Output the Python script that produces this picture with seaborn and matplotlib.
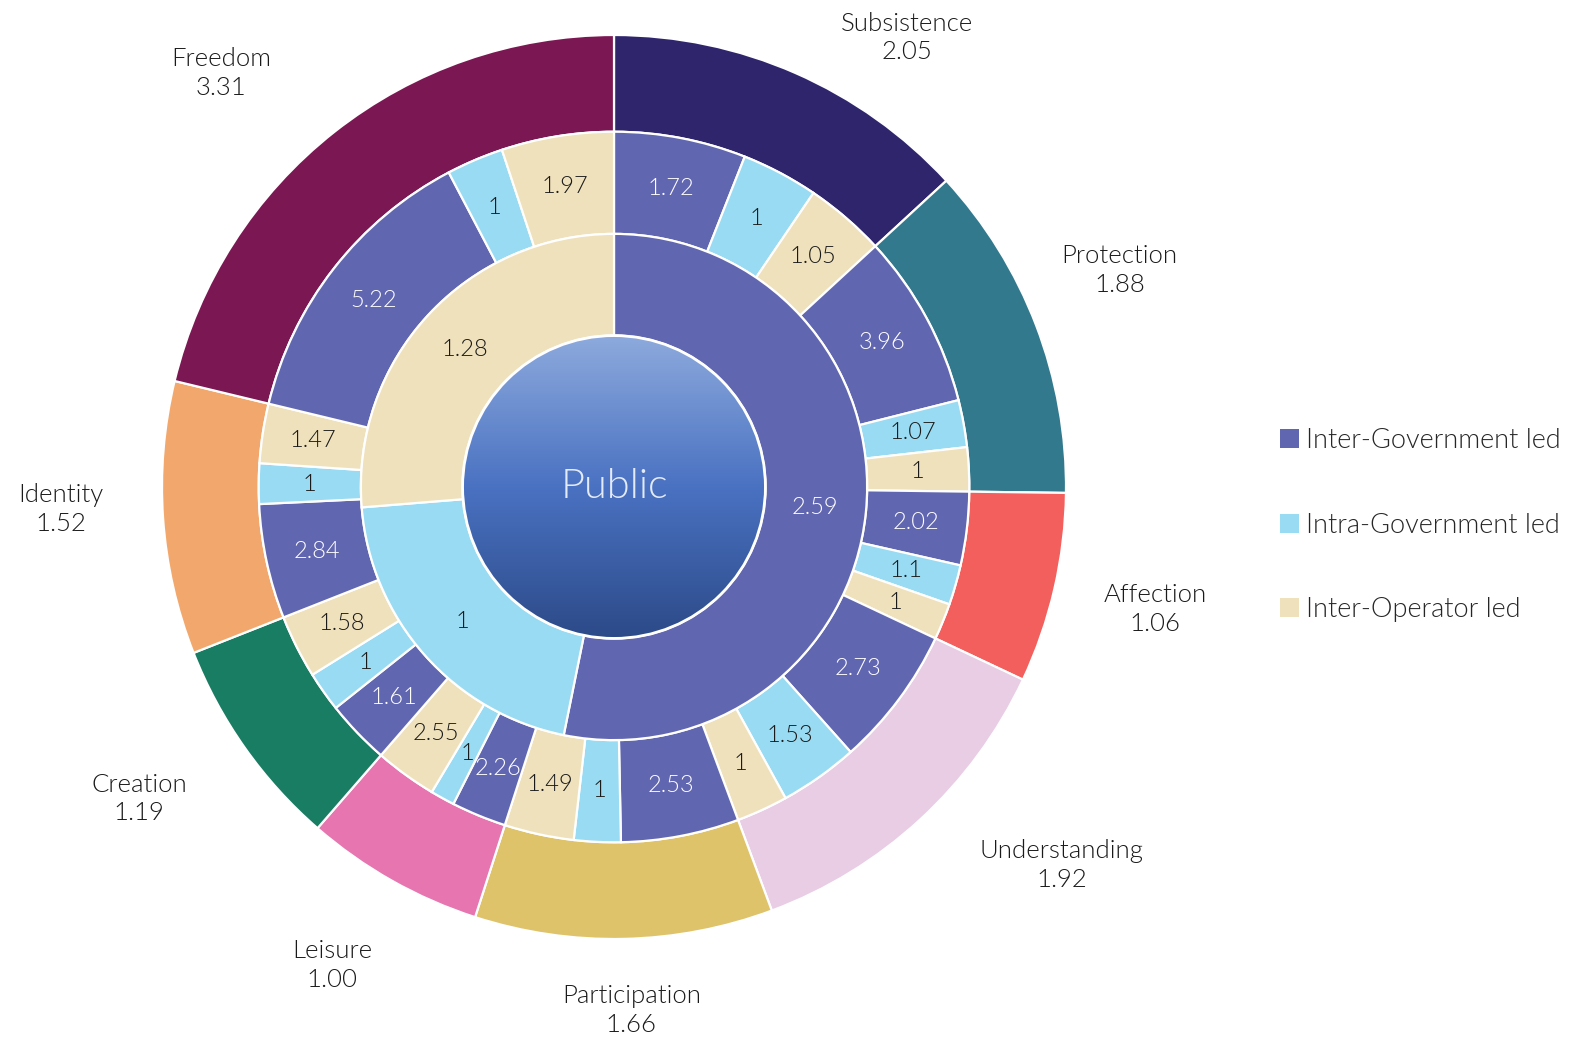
import numpy as np
import matplotlib
matplotlib.use("Agg")
import matplotlib.pyplot as plt
from matplotlib.patches import Circle, Patch
from matplotlib.colors import LinearSegmentedColormap
import seaborn as sns

# ---------------- data ----------------
center_label = "Public"
categories = ["Inter-Government led", "Intra-Government led", "Inter-Operator led"]
category_values = [2.59, 1, 1.28]

needs = ["Subsistence", "Protection", "Affection", "Understanding", "Participation",
         "Leisure", "Creation", "Identity", "Freedom"]
need_values = [2.05, 1.88, 1.06, 1.92, 1.66, 1.00, 1.19, 1.52, 3.31]

inter_gov = [1.72, 3.96, 2.02, 2.73, 2.53, 2.26, 1.61, 2.84, 5.22]
intra_gov = [1, 1.07, 1.1, 1.53, 1, 1, 1, 1, 1]
inter_op = [1.05, 1, 1, 1, 1.49, 2.55, 1.58, 1.47, 1.97]

# label placement (angle clockwise from top in degrees, radius relative to outer ring)
label_angle = [33.1, 66.8, 102.8, 130.2, 178.1, 210.5, 236.7, 267.7, 316.5]
label_radius = [1.186, 1.217, 1.227, 1.297, 1.159, 1.228, 1.257, 1.224, 1.262]

# ---------------- style ----------------
sns.set_theme(style="white")
plt.rcParams["font.family"] = ["Lato", "DejaVu Sans"]
FW = 300

cat_colors = ["#6166b0", "#99dbf2", "#efe1bb"]
need_colors = ["#2f256c", "#32798d", "#f25f5c", "#e8cde4", "#dfc36b",
               "#e675b0", "#187d62", "#f2a86d", "#7b1753"]
text_dark = "#1a1a1a"

fig = plt.figure(figsize=(15.8, 10.39), dpi=100)
W, H = 1580, 1039
cx, cy, R = 614, 487, 452
ax = fig.add_axes([(cx - R) / W, (H - cy - R) / H, 2 * R / W, 2 * R / H])
ax.set_xlim(-1, 1)
ax.set_ylim(-1, 1)
ax.set_aspect("equal")
ax.axis("off")

r_center = 0.335
r_inner = 0.56
r_mid = 0.786
r_outer = 1.0
edge = dict(edgecolor="white", linewidth=1.6)

def polar(theta_deg, r):
    t = np.deg2rad(theta_deg)
    return r * np.sin(t), r * np.cos(t)

# outer ring
ax.pie(need_values, radius=r_outer, colors=need_colors, startangle=90, counterclock=False,
       wedgeprops=dict(width=r_outer - r_mid, **edge))

# middle ring: children within each need sector
mid_vals, mid_cols, mid_labels = [], [], []
for i in range(len(needs)):
    kids = [inter_gov[i], intra_gov[i], inter_op[i]]
    s = sum(kids)
    for j, k in enumerate(kids):
        mid_vals.append(need_values[i] * k / s)
        mid_cols.append(cat_colors[j])
        mid_labels.append(k)
ax.pie(mid_vals, radius=r_mid, colors=mid_cols, startangle=90, counterclock=False,
       wedgeprops=dict(width=r_mid - r_inner, **edge))

# inner ring
ax.pie(category_values, radius=r_inner, colors=cat_colors, startangle=90, counterclock=False,
       wedgeprops=dict(width=r_inner - r_center, **edge))

def fmt(v):
    return ("%g" % v)

# labels middle ring
tot = sum(mid_vals)
acc = 0
for v, c, lab in zip(mid_vals, mid_cols, mid_labels):
    th = (acc + v / 2) / tot * 360
    acc += v
    x, y = polar(th, (r_inner + r_mid) / 2)
    ax.text(x, y, fmt(lab), ha="center", va="center", fontsize=17, fontweight=FW,
            color="white" if c == cat_colors[0] else text_dark)

# labels inner ring
tot = sum(category_values)
acc = 0
for v, c in zip(category_values, cat_colors):
    th = (acc + v / 2) / tot * 360
    acc += v
    x, y = polar(th, (r_center + r_inner) / 2)
    ax.text(x, y, fmt(v), ha="center", va="center", fontsize=17, fontweight=FW,
            color="white" if c == cat_colors[0] else text_dark)

# outer labels
for n, v, th, rr in zip(needs, need_values, label_angle, label_radius):
    x, y = polar(th, rr)
    ax.text(x, y, f"{n}\n{v:.2f}", ha="center", va="center", fontsize=18.5, fontweight=FW,
            color=text_dark, linespacing=1.25, clip_on=False)

# center gradient disc
cmap = LinearSegmentedColormap.from_list("g", ["#2c4a88", "#4a72c2", "#8eaadd"])
grad = np.linspace(0, 1, 256).reshape(-1, 1)
circ = Circle((0, 0), r_center, transform=ax.transData, facecolor="none")
ax.add_patch(circ)
im = ax.imshow(grad, cmap=cmap, extent=[-r_center, r_center, -r_center, r_center],
               origin="lower", aspect="auto", zorder=3)
im.set_clip_path(circ)
ax.add_patch(Circle((0, 0), r_center, facecolor="none", edgecolor="white", linewidth=2, zorder=4))
ax.text(0, 0, center_label, ha="center", va="center", fontsize=30, fontweight=FW,
        color="#e4ebf8", zorder=5)
ax.set_xlim(-1, 1)
ax.set_ylim(-1, 1)

# legend
handles = [Patch(facecolor=c, edgecolor="none", label=l) for c, l in zip(cat_colors, categories)]
fig.legend(handles=handles, loc="center left", bbox_to_anchor=(1280 / W, 1 - 525 / H),
           frameon=False, handlelength=0.7, handleheight=0.7,
           prop=dict(size=19.5, weight=FW),
           handletextpad=0.25, labelspacing=2.2, borderaxespad=0, borderpad=0)

fig.savefig("out.png", dpi=100)
